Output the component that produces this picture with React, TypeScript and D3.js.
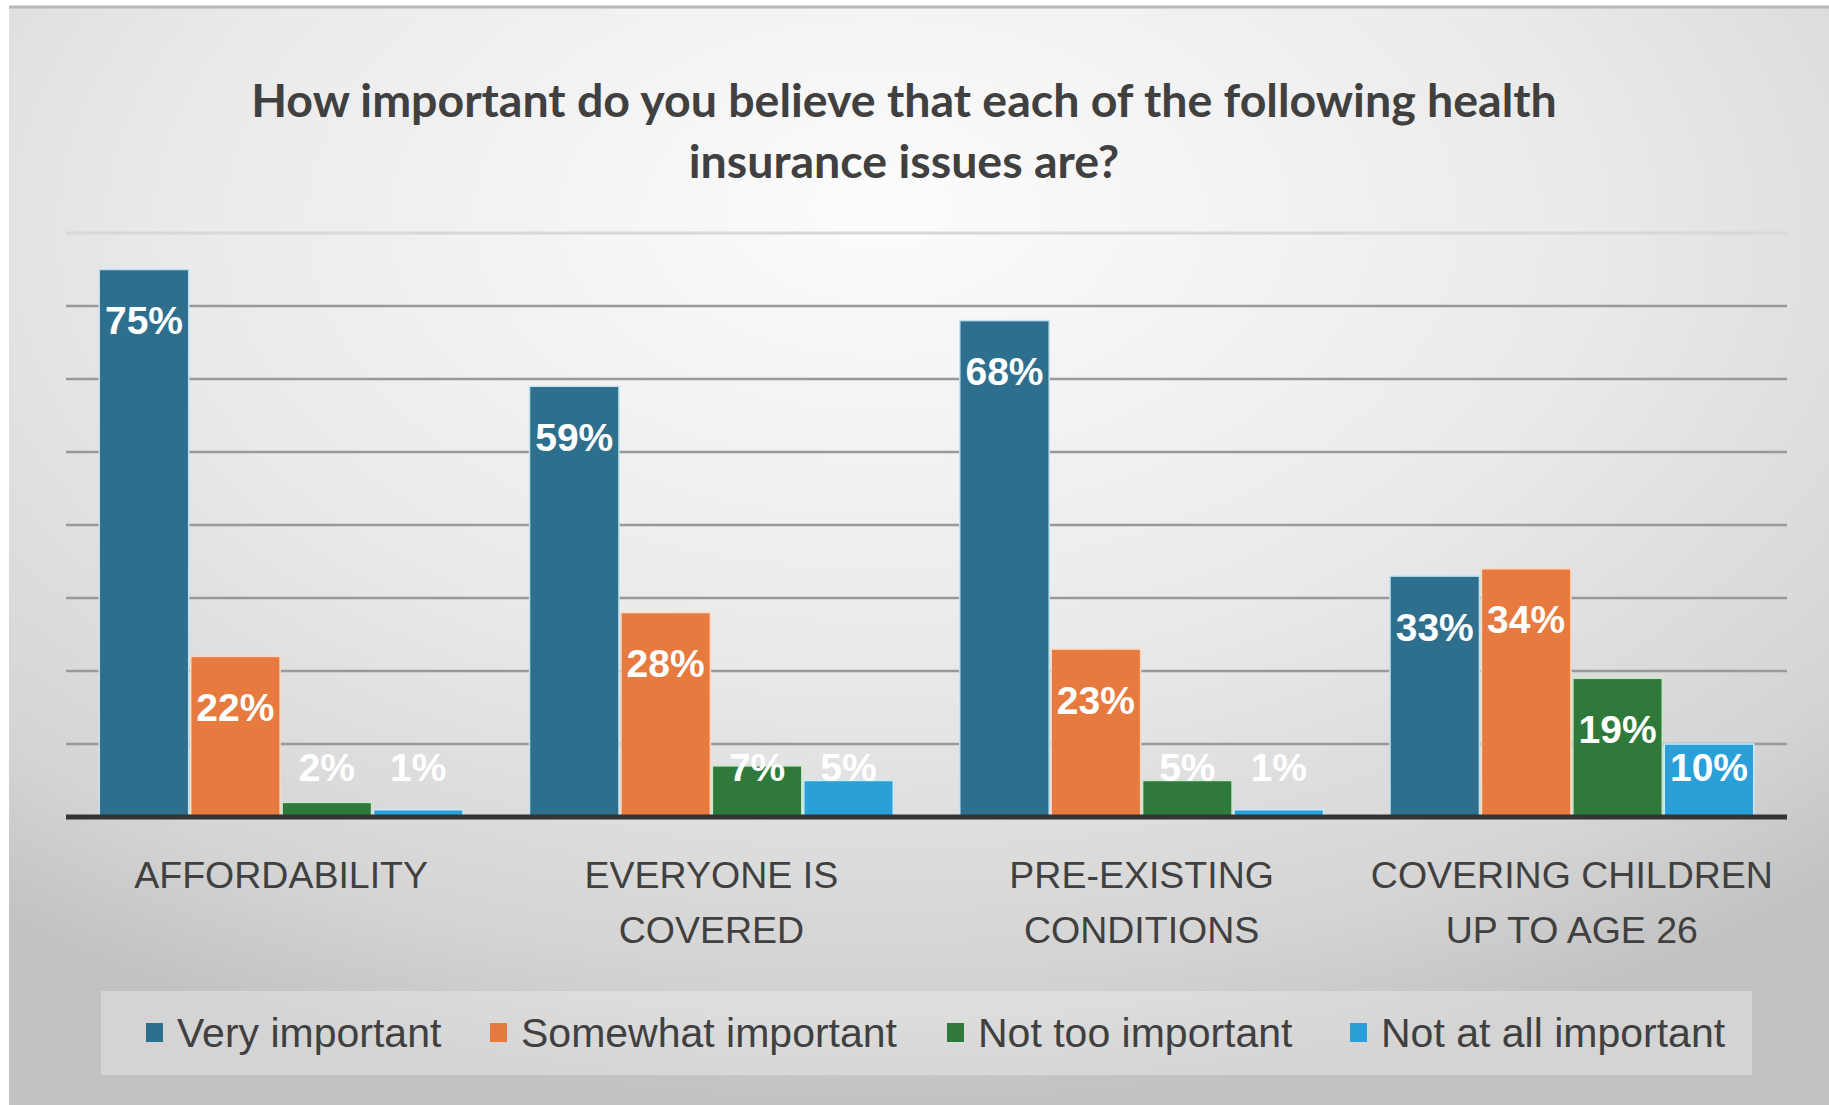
import React from "react";
import * as d3 from "d3";

const categories: string[][] = [
  ["AFFORDABILITY"],
  ["EVERYONE IS", "COVERED"],
  ["PRE-EXISTING", "CONDITIONS"],
  ["COVERING CHILDREN", "UP TO AGE 26"],
];
const categoryKeys = ["Affordability", "Everyone is covered", "Pre-existing conditions", "Covering children up to age 26"];
const seriesNames = ["Very important", "Somewhat important", "Not too important", "Not at all important"];
const veryImportant = [75, 59, 68, 33];
const somewhatImportant = [22, 28, 23, 34];
const notTooImportant = [2, 7, 5, 19];
const notAtAllImportant = [1, 5, 1, 10];
const yTicks = [0, 10, 20, 30, 40, 50, 60, 70, 80];
const titleLines = [
  "How important do you believe that each of the following health",
  "insurance issues are?",
];

const seriesValues = [veryImportant, somewhatImportant, notTooImportant, notAtAllImportant];
const colors = ["#2E6F8E", "#E67A3F", "#2F7A3A", "#2BA0D8"];
const strokes = ["#bfe3f2", "#fbd9c2", "#c9e8c9", "#c8ecfa"];

const W = 1829;
const H = 1105;
const plot = { left: 66, right: 1787, top: 233, bottom: 817 };
const legendX = [146, 490, 947, 1350];

export default function App() {
  const x0 = d3
    .scaleBand<string>()
    .domain(categoryKeys)
    .range([plot.left, plot.right])
    .paddingInner(0.15)
    .paddingOuter(0.075);
  const x1 = d3
    .scaleBand<string>()
    .domain(seriesNames)
    .range([0, x0.bandwidth()])
    .padding(0);
  const y = d3.scaleLinear().domain([0, 80]).range([plot.bottom, plot.top]);

  const font = "'Liberation Sans', Arial, sans-serif";

  return (
    <svg
      width={W}
      height={H}
      style={{ position: "absolute", left: 0, top: 0, display: "block" }}
      xmlns="http://www.w3.org/2000/svg"
    >
      <defs>
        <radialGradient id="bg" cx="48%" cy="22%" r="78%" fx="48%" fy="18%">
          <stop offset="0%" stopColor="#fcfcfc" />
          <stop offset="50%" stopColor="#eaeaea" />
          <stop offset="85%" stopColor="#d4d4d4" />
          <stop offset="100%" stopColor="#c2c2c2" />
        </radialGradient>
      </defs>
      <rect x={0} y={0} width={W} height={H} fill="#ffffff" />
      <rect x={9} y={7} width={W - 9} height={H - 7} fill="url(#bg)" />
      <line x1={9} x2={W} y1={7} y2={7} stroke="#b8b8b8" strokeWidth={3} />

      {/* title */}
      {titleLines.map((t, i) => (
        <text
          key={i}
          x={904}
          y={99 + i * 61}
          textAnchor="middle"
          dominantBaseline="central"
          fontFamily="Lato, 'Open Sans', sans-serif"
          fontWeight={700}
          fontSize={46.5}
          fill="#404040"
        >
          {t}
        </text>
      ))}

      {/* gridlines */}
      {yTicks.slice(1).map((t) => (
        <line
          key={t}
          x1={plot.left}
          x2={plot.right}
          y1={y(t)}
          y2={y(t)}
          stroke={t === 80 ? "#d8d8d8" : "#999999"}
          strokeWidth={t === 80 ? 3 : 2.5}
        />
      ))}

      {/* bars */}
      {categoryKeys.map((c, ci) => (
        <g key={c} transform={`translate(${x0(c)},0)`}>
          {seriesNames.map((s, si) => {
            const v = seriesValues[si][ci];
            const bx = x1(s)!;
            const bw = x1.bandwidth();
            return (
              <rect
                key={s}
                x={bx + 1}
                y={y(v)}
                width={bw - 2}
                height={y(0) - y(v)}
                fill={colors[si]}
                stroke={strokes[si]}
                strokeWidth={1.5}
              />
            );
          })}
        </g>
      ))}

      {/* baseline */}
      <line x1={plot.left} x2={plot.right} y1={y(0)} y2={y(0)} stroke="#333333" strokeWidth={5} />

      {/* data labels */}
      {categoryKeys.map((c, ci) =>
        seriesNames.map((s, si) => {
          const v = seriesValues[si][ci];
          const cx = x0(c)! + x1(s)! + x1.bandwidth() / 2;
          const cy = Math.min(y(v) + 51, y(0) - 50);
          return (
            <text
              key={c + s}
              x={cx}
              y={cy}
              textAnchor="middle"
              dominantBaseline="central"
              fontFamily={font}
              fontWeight={700}
              fontSize={39}
              fill="#ffffff"
            >
              {v}%
            </text>
          );
        })
      )}

      {/* category labels */}
      {categoryKeys.map((c, ci) => (
        <text
          key={c}
          x={x0(c)! + x0.bandwidth() / 2}
          textAnchor="middle"
          fontFamily={font}
          fontSize={37.5}
          fill="#404040"
        >
          {categories[ci].map((line, li) => (
            <tspan key={li} x={x0(c)! + x0.bandwidth() / 2} y={875 + li * 55} dominantBaseline="central">
              {line}
            </tspan>
          ))}
        </text>
      ))}

      {/* legend */}
      <rect x={101} y={991} width={1651} height={84} fill="#ffffff" fillOpacity={0.3} />
      {seriesNames.map((s, si) => (
        <g key={s}>
          <rect x={legendX[si]} y={1023} width={17} height={19} fill={colors[si]} />
          <text
            x={legendX[si] + 31}
            y={1033}
            dominantBaseline="central"
            fontFamily={font}
            fontSize={41}
            fill="#404040"
          >
            {s}
          </text>
        </g>
      ))}
    </svg>
  );
}
